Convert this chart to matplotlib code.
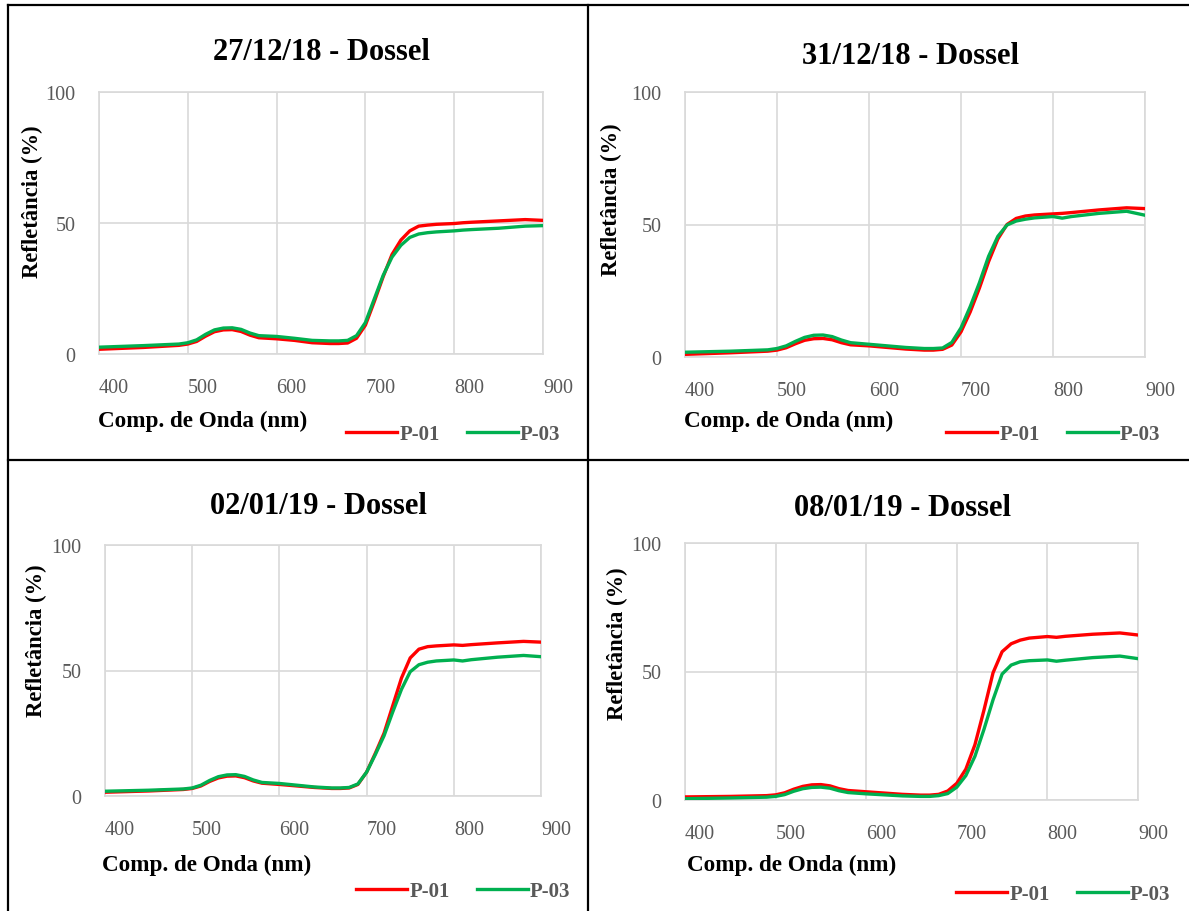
import numpy as np
import matplotlib
matplotlib.use("Agg")
import matplotlib.pyplot as plt
from matplotlib.lines import Line2D
from matplotlib.transforms import ScaledTranslation

plt.rcParams['font.family'] = ['Liberation Serif', 'DejaVu Serif']

W, H = 1189, 912

# wavelength grid (nm)
wl = [400, 450, 490, 500, 510, 520, 530, 540, 550, 560, 570, 580, 600, 620, 640, 660, 670,
      680, 690, 700, 710, 720, 730, 740, 750, 760, 770, 780, 800, 810, 820, 850, 880, 900]

titles = ['27/12/18 - Dossel', '31/12/18 - Dossel', '02/01/19 - Dossel', '08/01/19 - Dossel']
series_names = ['P-01', 'P-03']

p01_2712 = [1.8, 2.5, 3.3, 3.8, 4.8, 6.8, 8.5, 9.2, 9.3, 8.6, 7.2, 6.2, 5.8, 5.2, 4.3, 4.0, 4.0,
            4.2, 6.0, 11.0, 20.0, 29.5, 38.0, 43.5, 47.0, 48.8, 49.2, 49.5, 49.8, 50.1, 50.3, 50.8, 51.3, 51.0]
p03_2712 = [2.6, 3.2, 3.8, 4.3, 5.4, 7.5, 9.2, 9.9, 10.0, 9.4, 8.0, 7.0, 6.7, 6.0, 5.2, 5.0, 5.0,
            5.2, 7.0, 12.0, 21.0, 30.0, 37.0, 41.5, 44.5, 45.8, 46.3, 46.6, 47.0, 47.3, 47.5, 48.0, 48.8, 49.0]

p01_3112 = [1.0, 1.6, 2.2, 2.6, 3.5, 5.0, 6.3, 6.9, 7.0, 6.5, 5.4, 4.6, 4.2, 3.6, 3.0, 2.6, 2.6,
            2.9, 4.5, 9.5, 17.0, 26.0, 36.0, 44.5, 50.0, 52.3, 53.2, 53.6, 54.0, 54.2, 54.5, 55.5, 56.3, 56.0]
p03_3112 = [1.8, 2.2, 2.7, 3.2, 4.2, 5.9, 7.4, 8.2, 8.3, 7.7, 6.4, 5.4, 4.8, 4.2, 3.6, 3.2, 3.2,
            3.4, 5.5, 11.0, 19.0, 28.0, 38.0, 45.5, 49.8, 51.3, 52.0, 52.5, 53.0, 52.4, 53.0, 54.2, 55.0, 53.5]

p01_0201 = [1.5, 2.0, 2.6, 3.0, 4.0, 5.8, 7.2, 7.9, 8.0, 7.3, 6.0, 5.1, 4.6, 4.0, 3.4, 3.0, 3.0,
            3.2, 4.6, 9.5, 17.0, 25.0, 36.0, 47.0, 55.0, 58.5, 59.5, 59.8, 60.2, 60.0, 60.3, 61.0, 61.6, 61.3]
p03_0201 = [1.9, 2.3, 2.8, 3.2, 4.3, 6.2, 7.7, 8.4, 8.5, 7.8, 6.4, 5.4, 5.0, 4.3, 3.6, 3.2, 3.2,
            3.4, 4.8, 9.5, 16.5, 24.0, 33.5, 42.5, 49.5, 52.3, 53.3, 53.8, 54.2, 53.8, 54.3, 55.3, 56.0, 55.5]

p01_0801 = [1.2, 1.4, 1.7, 2.0, 2.8, 4.2, 5.3, 5.9, 6.0, 5.5, 4.4, 3.7, 3.2, 2.7, 2.2, 1.9, 1.9,
            2.2, 3.5, 6.5, 12.0, 21.5, 35.0, 49.5, 57.7, 60.8, 62.2, 63.0, 63.6, 63.3, 63.7, 64.5, 65.0, 64.2]
p03_0801 = [0.5, 0.8, 1.1, 1.4, 2.1, 3.4, 4.4, 4.9, 5.0, 4.6, 3.6, 2.9, 2.4, 2.0, 1.6, 1.4, 1.4,
            1.7, 2.5, 5.0, 9.5, 17.0, 27.5, 39.0, 49.0, 52.5, 53.8, 54.2, 54.5, 54.0, 54.4, 55.4, 56.0, 55.0]

data = [(p01_2712, p03_2712), (p01_3112, p03_3112), (p01_0201, p03_0201), (p01_0801, p03_0801)]
x_ticks = [400, 500, 600, 700, 800, 900]
y_ticks = [0, 50, 100]

# layout in pixels: plot box (left, right, top, bottom), title xy, ylabel xy, xlabel xy, legend xy
layout = [
    dict(box=(99, 543, 93, 355), title=(321, 52), ylab=(32, 202), xlab=(98, 421), leg=(346, 435)),
    dict(box=(685, 1145, 93, 358), title=(910, 56), ylab=(611, 200), xlab=(684, 421), leg=(946, 435)),
    dict(box=(105, 541, 546, 797), title=(318, 507), ylab=(36, 641), xlab=(102, 865), leg=(356, 892)),
    dict(box=(685, 1138, 544, 801), title=(903, 509), ylab=(617, 644), xlab=(687, 865), leg=(956, 895)),
]

red = '#FF0000'
green = '#00B050'
grey_txt = '#595959'
grid_c = '#D9D9D9'

fig = plt.figure(figsize=(W / 100, H / 100), dpi=100)


def fx(px):
    return px / W


def fy(py):
    return 1 - py / H


for i, lay in enumerate(layout):
    l, r, t, b = lay['box']
    ax = fig.add_axes([fx(l), fy(b), fx(r) - fx(l), (b - t) / H])
    y1, y2 = data[i]
    h1, = ax.plot(wl, y1, color=red, lw=2.4, label=series_names[0], zorder=3)
    h2, = ax.plot(wl, y2, color=green, lw=2.4, label=series_names[1], zorder=3)
    ax.set_xlim(400, 900)
    ax.set_ylim(0, 100)
    ax.set_xticks(x_ticks)
    ax.set_yticks(y_ticks)
    ax.grid(True, color=grid_c, lw=1.2)
    ax.set_axisbelow(True)
    for s in ax.spines.values():
        s.set_color(grid_c)
        s.set_linewidth(1.2)
    ax.tick_params(length=0, labelsize=14.5, labelcolor=grey_txt)
    ax.tick_params(axis='x', pad=17)
    ax.tick_params(axis='y', pad=17)
    # Excel-like shift of the category labels to the right
    for lab in ax.get_xticklabels():
        lab.set_transform(lab.get_transform() + ScaledTranslation(0.15, 0, fig.dpi_scale_trans))

    fig.text(fx(lay['title'][0]), fy(lay['title'][1]), titles[i], ha='center', va='center',
             fontsize=22, fontweight='bold', color='black')
    fig.text(fx(lay['ylab'][0]), fy(lay['ylab'][1]), 'Refletância (%)', ha='center', va='center',
             rotation=90, fontsize=16.3, fontweight='bold', color='black')
    fig.text(fx(lay['xlab'][0]), fy(lay['xlab'][1]), 'Comp. de Onda (nm)', ha='left', va='center',
             fontsize=16.7, fontweight='bold', color='black')
    ax.legend(handles=[h1, h2], ncol=2, loc='center left',
              bbox_to_anchor=(fx(lay['leg'][0]), fy(lay['leg'][1])), bbox_transform=fig.transFigure,
              frameon=False, borderpad=0, borderaxespad=0, handlelength=2.45, handletextpad=0.1,
              columnspacing=1.3, labelcolor=grey_txt,
              prop={'family': 'Liberation Serif', 'weight': 'bold', 'size': 15})

# panel frame lines
frame = [((8, 1189), (6, 6)), ((8, 8), (6, 912)), ((588, 588), (6, 912)), ((8, 1189), (461, 461))]
for xs, ys in frame:
    fig.add_artist(Line2D([fx(xs[0]), fx(xs[1])], [fy(ys[0]), fy(ys[1])], color='black', lw=1.6))

fig.savefig('out.png', dpi=100)
